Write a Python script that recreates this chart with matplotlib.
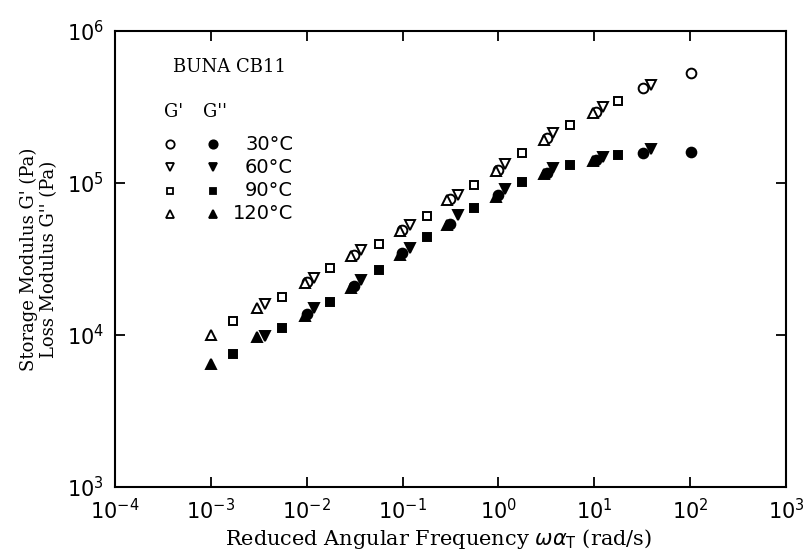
import matplotlib
matplotlib.use("Agg")
import matplotlib.pyplot as plt
from matplotlib.ticker import LogLocator, NullFormatter

# reduced angular frequency (rad/s) and moduli (Pa)
w_30 = [0.0100, 0.031, 0.098, 0.31, 1.0, 3.2, 10.4, 32.3, 103]
gp_30 = [2.24e4, 3.36e4, 4.9e4, 7.9e4, 1.22e5, 1.97e5, 2.94e5, 4.2e5, 5.3e5]
gpp_30 = [1.37e4, 2.1e4, 3.44e4, 5.4e4, 8.3e4, 1.17e5, 1.42e5, 1.58e5, 1.59e5]

w_60 = [0.0037, 0.012, 0.037, 0.119, 0.38, 1.17, 3.7, 12.2, 38.8]
gp_60 = [1.59e4, 2.36e4, 3.62e4, 5.3e4, 8.4e4, 1.33e5, 2.12e5, 3.18e5, 4.4e5]
gpp_60 = [9.9e3, 1.5e4, 2.3e4, 3.75e4, 6.2e4, 9.2e4, 1.25e5, 1.49e5, 1.67e5]

w_90 = [0.0017, 0.0055, 0.0175, 0.0567, 0.178, 0.553, 1.74, 5.56, 17.7]
gp_90 = [1.24e4, 1.79e4, 2.75e4, 3.97e4, 6.07e4, 9.7e4, 1.57e5, 2.41e5, 3.47e5]
gpp_90 = [7.5e3, 1.12e4, 1.66e4, 2.68e4, 4.43e4, 6.9e4, 1.02e5, 1.31e5, 1.53e5]

w_120 = [0.0010, 0.0030, 0.0095, 0.029, 0.094, 0.29, 0.95, 3.0, 9.8]
gp_120 = [1.0e4, 1.5e4, 2.2e4, 3.3e4, 4.8e4, 7.7e4, 1.2e5, 1.93e5, 2.9e5]
gpp_120 = [6.4e3, 9.7e3, 1.33e4, 2.05e4, 3.35e4, 5.3e4, 8.1e4, 1.15e5, 1.40e5]

temps = ["30°C", "60°C", "90°C", "120°C"]
markers = ["o", "v", "s", "^"]
sizes = [7, 7, 6, 7]

series = [
    (w_30, gp_30, gpp_30),
    (w_60, gp_60, gpp_60),
    (w_90, gp_90, gpp_90),
    (w_120, gp_120, gpp_120),
]

serif = "DejaVu Serif"

fig = plt.figure(figsize=(8.05, 5.54), dpi=100)
ax = fig.add_axes([0.1429, 0.1209, 0.8335, 0.8231])

for (w, gp, gpp), m, s in zip(series, markers, sizes):
    ax.plot(w, gp, linestyle="none", marker=m, ms=s, mfc="white",
            mec="black", mew=1.4)
    ax.plot(w, gpp, linestyle="none", marker=m, ms=s, mfc="black",
            mec="black", mew=1.4)

ax.set_xscale("log")
ax.set_yscale("log")
ax.set_xlim(1e-4, 1e3)
ax.set_ylim(1e3, 1e6)
ax.xaxis.set_major_locator(LogLocator(base=10, numticks=10))
ax.yaxis.set_major_locator(LogLocator(base=10, numticks=10))
ax.xaxis.set_minor_formatter(NullFormatter())
ax.yaxis.set_minor_formatter(NullFormatter())
ax.tick_params(which="major", direction="in", length=7, width=1.3,
               top=True, right=True, labelsize=15, pad=8)
ax.tick_params(which="minor", direction="in", length=0)
for sp in ax.spines.values():
    sp.set_linewidth(1.5)

ax.set_xlabel(r"Reduced Angular Frequency $\omega\alpha_{\rm T}$ (rad/s)",
              family=serif, fontsize=15)
ax.xaxis.set_label_coords(0.482, -0.088)
ax.set_ylabel("Storage Modulus G' (Pa)\nLoss Modulus G'' (Pa)",
              family=serif, fontsize=13, labelpad=6, linespacing=1.15)

# in-plot legend, placed in pixel-derived axes fractions
def px(x, y):
    return ((x - 115) / 671.0, (487 - y) / 456.0)

ax.text(*px(173, 67), "BUNA CB11", transform=ax.transAxes, family=serif,
        fontsize=13, va="center", ha="left")
ax.text(*px(164, 112), "G'", transform=ax.transAxes, family=serif,
        fontsize=13, va="center", ha="left")
ax.text(*px(203, 112), "G''", transform=ax.transAxes, family=serif,
        fontsize=13, va="center", ha="left")
for i, (t, m, s) in enumerate(zip(temps, markers, sizes)):
    yy = 144 + i * 23.3
    ax.plot(*px(170, yy), marker=m, ms=s - 1, mfc="white", mec="black",
            mew=1.3, transform=ax.transAxes, clip_on=False)
    ax.plot(*px(213, yy), marker=m, ms=s - 1, mfc="black", mec="black",
            mew=1.3, transform=ax.transAxes, clip_on=False)
    ax.text(*px(293, yy), t, transform=ax.transAxes, family="DejaVu Sans",
            fontsize=14, va="center", ha="right")

fig.savefig("out.png", dpi=100)
